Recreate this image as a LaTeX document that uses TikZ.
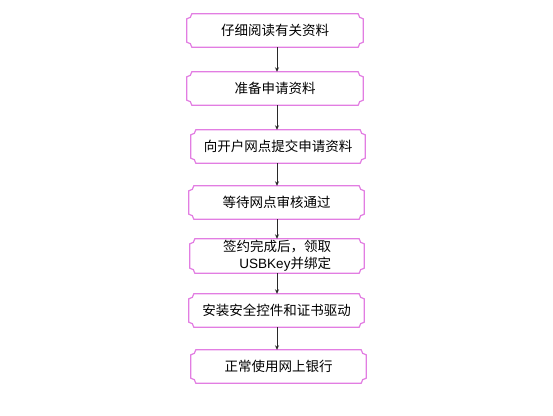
\documentclass[tikz,border=0pt]{standalone}
\usepackage{fontspec}
\setmainfont{Liberation Sans}
\newfontfamily\cjk{Noto Sans CJK SC}
\usetikzlibrary{arrows.meta,calc}
\definecolor{plaquecol}{RGB}{226,125,226}
\definecolor{arrcol}{RGB}{40,40,40}
\tikzset{
  stepnode/.style={minimum width=#1, minimum height=33pt, inner sep=0pt,
    font=\cjk\fontsize{13.5}{17}\selectfont, align=center},
  stepnode/.default=176pt,
  plaqueline/.style={draw=plaquecol, line width=1.2pt},
  arr/.style={draw=arrcol, line width=0.8pt, -{Stealth[length=4.5pt,width=4pt]}}
}
\newcommand{\plaque}[1]{%
  \draw[plaqueline]
    ($(#1.north west)+(5pt,0)$) -- ($(#1.north east)+(-5pt,0)$)
    arc[start angle=180,end angle=270,radius=5pt]
    -- ($(#1.south east)+(0,5pt)$)
    arc[start angle=90,end angle=180,radius=5pt]
    -- ($(#1.south west)+(5pt,0)$)
    arc[start angle=0,end angle=90,radius=5pt]
    -- ($(#1.north west)+(0,-5pt)$)
    arc[start angle=270,end angle=360,radius=5pt] -- cycle;}
\begin{document}
\begin{tikzpicture}[x=1pt,y=-1pt]
\useasboundingbox (0,0) rectangle (553,415);
\coordinate (axis) at (277,0);
\node[stepnode] (a) at (275,30.5) {仔细阅读有关资料};
\node[stepnode] (b) at (275,88.5) {准备申请资料};
\node[stepnode=174pt] (c) at (278,146.5) {向开户网点提交申请资料};
\node[stepnode=175pt] (d) at (276.5,202.5) {等待网点审核通过};
\node[stepnode=174pt, minimum height=34pt, align=right] (e) at (277,256) {签约完成后，领取\hspace{1pt}\\{\rmfamily USBKey}并绑定\hspace{-1pt}};
\node[stepnode=175pt] (f) at (276.5,310.5) {安装安全控件和证书驱动};
\node[stepnode=175pt] (g) at (278.5,366.5) {正常使用网上银行};
\foreach \n in {a,b,c,d,e,f,g} {\plaque{\n}}
\draw[arr] (a.south -| axis) -- (b.north -| axis);
\draw[arr] (b.south -| axis) -- (c.north -| axis);
\draw[arr] (c.south -| axis) -- (d.north -| axis);
\draw[arr] (d.south -| axis) -- (e.north -| axis);
\draw[arr] (e.south -| axis) -- (f.north -| axis);
\draw[arr] (f.south -| axis) -- (g.north -| axis);
\end{tikzpicture}
\end{document}
